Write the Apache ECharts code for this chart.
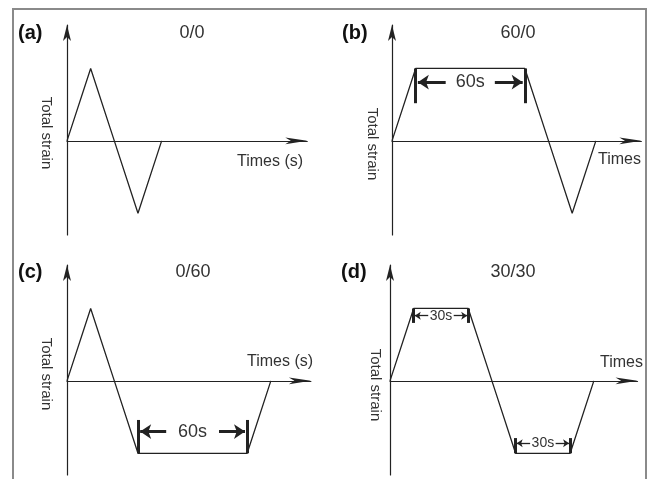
<!DOCTYPE html>
<html><head><meta charset="utf-8">
<script src="https://cdn.jsdelivr.net/npm/echarts@6/dist/echarts.min.js"></script>
<style>html,body{margin:0;padding:0;background:#fff}#c{width:649px;height:479px}</style>
</head><body><div id="c"></div>
<script>
// ---- data ----
const panelLabels = ['(a)', '(b)', '(c)', '(d)'];
const panelTitles = ['0/0', '60/0', '0/60', '30/30'];
const xNames = ['Times (s)', 'Times', 'Times (s)', 'Times'];
const yName = 'Total strain';
const timeA = [0, 13, 26, 39, 52];            const strainA = [0, 1, 0, -1, 0];
const timeB = [0, 13, 73, 86, 99, 112];       const strainB = [0, 1, 1, 0, -1, 0];
const timeC = [0, 13, 26, 39, 99, 112];       const strainC = [0, 1, 0, -1, -1, 0];
const timeD = [0, 13, 43, 56, 69, 99, 112];   const strainD = [0, 1, 1, 0, -1, -1, 0];
// hold periods: [start, end, label, level]
const holdsB = [[13, 73, '60s', 1]];
const holdsC = [[39, 99, '60s', -1]];
const holdsD = [[13, 43, '30s', 1], [69, 99, '30s', -1]];

// ---- layout / style ----
const pxPerSec = 1.82, yMin = -1.3, yMax = 1.6, gridH = 210;
const panels = [
  {left: 67,  top: 25,  xMax: 132, t: timeA, s: strainA, holds: [],
   lab: [18, 33], ttl: [192, 33], yn: [46, 133], xn: [237, 162]},
  {left: 392, top: 25,  xMax: 137, t: timeB, s: strainB, holds: holdsB,
   lab: [342, 33], ttl: [518, 33], yn: [372, 144], xn: [598, 160]},
  {left: 67,  top: 265, xMax: 134, t: timeC, s: strainC, holds: holdsC,
   lab: [18, 272], ttl: [193, 272], yn: [46, 374], xn: [247, 362]},
  {left: 390, top: 265, xMax: 136, t: timeD, s: strainD, holds: holdsD,
   lab: [341, 272], ttl: [513, 272], yn: [375, 385], xn: [600, 363]}
];
// bracket geometry per hold (styles): bar length, arrow offset, text half gap, font, widths
const bracketStyles = {
  '1-0': {bar: 0.48, arr: 0.19, gap: 13.5, end: 1.2, font: 18, bw: 3, aw: 3, head: [11, 11]},
  '2-0': {bar: 0.46, arr: 0.30, gap: 14.5, end: 1.2, font: 18, bw: 3, aw: 3, head: [11, 11]},
  '3-0': {bar: 0.20, arr: 0.10, gap: 7,    end: 0.6, font: 14, bw: 3, aw: 1.3, head: [6, 6]},
  '3-1': {bar: 0.21, arr: 0.14, gap: 7,    end: 0.6, font: 14, bw: 3, aw: 1.3, head: [6, 6]}
};
const ink = '#222';

const grids = [], xAxes = [], yAxes = [], series = [], graphics = [];
graphics.push({type: 'rect', shape: {x: 13, y: 9, width: 633, height: 520},
  style: {fill: 'none', stroke: '#8a8a8a', lineWidth: 2}, z: 100});

panels.forEach((p, i) => {
  grids.push({left: p.left, top: p.top, width: p.xMax * pxPerSec, height: gridH, containLabel: false});
  xAxes.push({type: 'value', gridIndex: i, min: 0, max: p.xMax,
    axisLine: {show: true, onZero: true, symbol: ['none', 'arrow'], symbolSize: [5, 22],
      lineStyle: {color: ink, width: 1.2}},
    axisTick: {show: false}, axisLabel: {show: false}, splitLine: {show: false}});
  yAxes.push({type: 'value', gridIndex: i, min: yMin, max: yMax,
    axisLine: {show: true, onZero: false, symbol: ['none', 'arrow'], symbolSize: [6, 16],
      lineStyle: {color: ink, width: 1.2}},
    axisTick: {show: false}, axisLabel: {show: false}, splitLine: {show: false}});

  const mlData = [], mpData = [];
  p.holds.forEach((h, k) => {
    const st = bracketStyles[i + '-' + k];
    const [a, b, txt, lvl] = h;
    const yBar = lvl * (1 - st.bar), yArr = lvl * (1 - st.arr), mid = (a + b) / 2;
    [a, b].forEach(x => mlData.push([
      {coord: [x, lvl], symbol: 'none', lineStyle: {width: st.bw, color: ink, type: 'solid'}},
      {coord: [x, yBar], symbol: 'none'}]));
    mlData.push([
      {coord: [mid - st.gap, yArr], symbol: 'none', lineStyle: {width: st.aw, color: ink, type: 'solid'}},
      {coord: [a + st.end, yArr], symbol: 'arrow', symbolSize: st.head}]);
    mlData.push([
      {coord: [mid + st.gap, yArr], symbol: 'none', lineStyle: {width: st.aw, color: ink, type: 'solid'}},
      {coord: [b - st.end, yArr], symbol: 'arrow', symbolSize: st.head}]);
    mpData.push({name: txt, coord: [mid, yArr],
      label: {show: true, position: 'inside', formatter: '{b}', color: '#333',
        fontSize: st.font, fontFamily: 'Liberation Sans'}});
  });

  series.push({type: 'line', xAxisIndex: i, yAxisIndex: i, symbol: 'none',
    lineStyle: {color: ink, width: 1.3},
    data: p.t.map((t, j) => [t, p.s[j]]),
    markLine: {silent: true, symbol: ['none', 'none'], label: {show: false},
      lineStyle: {color: ink, type: 'solid'}, data: mlData},
    markPoint: {silent: true, symbol: 'circle', symbolSize: 1,
      itemStyle: {color: 'rgba(0,0,0,0)'}, data: mpData}});

  graphics.push({type: 'text', x: p.lab[0], y: p.lab[1],
    style: {text: panelLabels[i], font: 'bold 20px "Liberation Sans"', fill: '#111',
      textAlign: 'left', textVerticalAlign: 'middle'}});
  graphics.push({type: 'text', x: p.ttl[0], y: p.ttl[1],
    style: {text: panelTitles[i], font: '18px "Liberation Sans"', fill: '#333',
      textAlign: 'center', textVerticalAlign: 'middle'}});
  graphics.push({type: 'text', x: p.yn[0], y: p.yn[1], rotation: -Math.PI / 2,
    style: {text: yName, font: '15px "Liberation Sans"', fill: '#333',
      textAlign: 'center', textVerticalAlign: 'middle'}});
  graphics.push({type: 'text', x: p.xn[0], y: p.xn[1],
    style: {text: xNames[i], font: '16px "Liberation Sans"', fill: '#333',
      textAlign: 'left', textVerticalAlign: 'middle'}});
});

const chart = echarts.init(document.getElementById('c'), null, {renderer: 'canvas'});
chart.setOption({animation: false, backgroundColor: '#fff',
  grid: grids, xAxis: xAxes, yAxis: yAxes, series: series, graphic: graphics});
</script></body></html>
